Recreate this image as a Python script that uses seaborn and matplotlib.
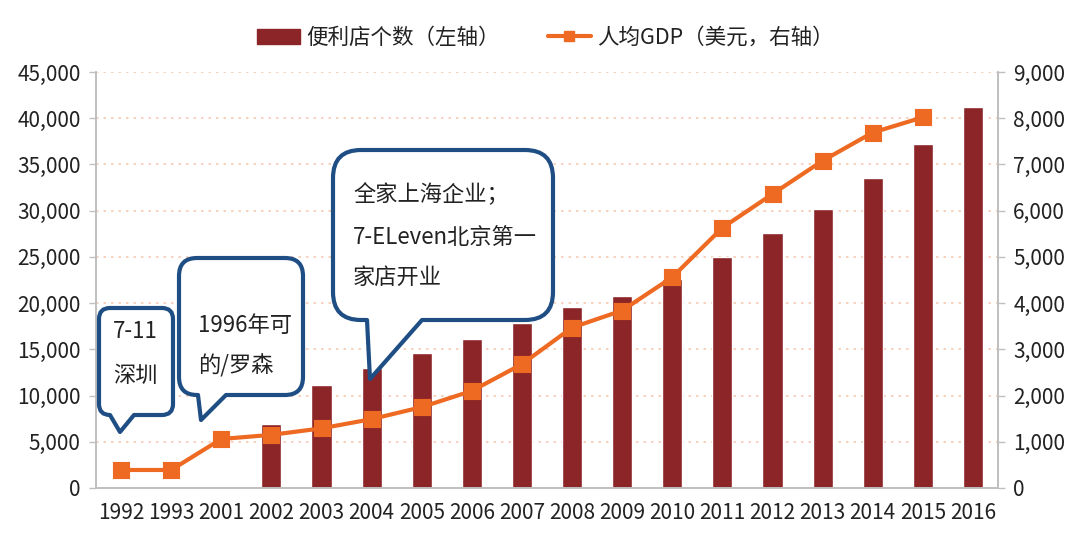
import matplotlib
matplotlib.use("Agg")
import matplotlib.pyplot as plt
import seaborn as sns
import pandas as pd
import numpy as np
from matplotlib.path import Path
from matplotlib.patches import PathPatch, Patch
from matplotlib.lines import Line2D
from matplotlib.ticker import FuncFormatter, MultipleLocator, FixedLocator

# ---------------- data ----------------
years = ["1992", "1993", "2001", "2002", "2003", "2004", "2005", "2006", "2007",
         "2008", "2009", "2010", "2011", "2012", "2013", "2014", "2015", "2016"]
store_years = ["2002", "2003", "2004", "2005", "2006", "2007", "2008", "2009",
               "2010", "2011", "2012", "2013", "2014", "2015", "2016"]
store_counts = [6900, 11100, 13000, 14600, 16100, 17800, 19600, 20800,
                22600, 25000, 27600, 30200, 33500, 37200, 41200]
gdp_years = ["1992", "1993", "2001", "2002", "2003", "2004", "2005", "2006",
             "2007", "2008", "2009", "2010", "2011", "2012", "2013", "2014", "2015"]
gdp_values = [390, 390, 1060, 1150, 1290, 1490, 1750, 2100,
              2680, 3470, 3840, 4560, 5630, 6360, 7080, 7690, 8020]
bar_label = "便利店个数（左轴）"
line_label = "人均GDP（美元，右轴）"
notes = [["7-11", "深圳"], ["1996年可", "的/罗森"],
         ["全家上海企业；", "7-ELeven北京第一", "家店开业"]]

# ---------------- style ----------------
sns.set_style("white")
plt.rcParams["font.family"] = ["Noto Sans CJK SC", "DejaVu Sans"]
BAR = "#8B2528"
LINE = "#EE6A22"
BLUE = "#1F4E85"
SPINE = "#BFBFBF"
GRID = "#F6C9B3"
TXT = "#222222"

W, H = 1080, 549
fig = plt.figure(figsize=(W / 100, H / 100), dpi=100)
ax = fig.add_axes([96 / W, 1 - 488 / H, (998 - 96) / W, (488 - 72) / H])
ax2 = ax.twinx()

df_bar = pd.DataFrame({"year": store_years, "count": store_counts})
df_line = pd.DataFrame({"year": gdp_years, "gdp": gdp_values})

sns.barplot(data=df_bar, x="year", y="count", order=years, ax=ax,
            color=BAR, saturation=1, width=0.4, errorbar=None, zorder=2)
sns.pointplot(data=df_line, x="year", y="gdp", order=years, ax=ax2,
              color=LINE, markers="s", linestyles="-", errorbar=None,
              markersize=10, linewidth=3)

for a in (ax, ax2):
    leg = a.get_legend()
    if leg:
        leg.remove()

ax.set_xlim(-0.5, len(years) - 0.5)
ax.set_ylim(0, 45000)
ax2.set_ylim(0, 9000)
ax.yaxis.set_major_locator(MultipleLocator(5000))
ax2.yaxis.set_major_locator(MultipleLocator(1000))
fmt = FuncFormatter(lambda v, p: f"{int(v):,}")
ax.yaxis.set_major_formatter(fmt)
ax2.yaxis.set_major_formatter(fmt)

ax.set_xticks(range(len(years)))
ax.set_xticklabels(years)
ax.xaxis.set_minor_locator(FixedLocator(np.arange(-0.5, len(years), 1.0)))
ax.tick_params(axis="x", which="major", length=0, pad=10, labelsize=15, labelcolor=TXT)
ax.tick_params(axis="x", which="minor", length=5, color=SPINE, width=1)
ax.tick_params(axis="y", length=5, color=SPINE, width=1, labelsize=15, labelcolor=TXT, pad=6)
ax2.tick_params(axis="y", length=5, color=SPINE, width=1, labelsize=15, labelcolor=TXT, pad=6)

ax.set_xlabel("")
ax.set_ylabel("")
ax2.set_ylabel("")
ax.grid(axis="y", color=GRID, linestyle=(0, (1.5, 3)), linewidth=1.2)
ax.set_axisbelow(True)
for a in (ax, ax2):
    a.spines["top"].set_visible(False)
    for s in ("left", "right", "bottom"):
        a.spines[s].set_color(SPINE)
        a.spines[s].set_linewidth(1.2)

# ---------------- legend ----------------
handles = [Patch(facecolor=BAR, edgecolor=BAR),
           Line2D([0], [0], color=LINE, lw=3, marker="s", markersize=7)]
fig.legend(handles, [bar_label, line_label], loc="center",
           bbox_to_anchor=(0.505, 1 - 38 / H), ncol=2, frameon=False,
           fontsize=15.5, handlelength=2.0, handletextpad=0.3, columnspacing=2.2,
           labelcolor=TXT)

# ---------------- speech bubbles ----------------
def bubble(L, T, R, B, r, x1, x2, tip):
    x1 = max(x1, L + r)
    pts = [(L + r, T), (R - r, T), (R, T), (R, T + r), (R, B - r), (R, B), (R - r, B),
           (x2, B), tip, (x1, B), (L + r, B), (L, B), (L, B - r), (L, T + r), (L, T),
           (L + r, T), (L + r, T)]
    codes = [Path.MOVETO, Path.LINETO, Path.CURVE3, Path.CURVE3, Path.LINETO,
             Path.CURVE3, Path.CURVE3, Path.LINETO, Path.LINETO, Path.LINETO,
             Path.LINETO, Path.CURVE3, Path.CURVE3, Path.LINETO, Path.CURVE3,
             Path.CURVE3, Path.CLOSEPOLY]
    verts = [(x / W, 1 - y / H) for x, y in pts]
    patch = PathPatch(Path(verts, codes), transform=fig.transFigure,
                      facecolor="white", edgecolor=BLUE, lw=3, joinstyle="round",
                      zorder=10)
    fig.add_artist(patch)

bubble(99, 308, 173, 415, 11, 110, 134, (120, 432))
bubble(179, 258, 303, 395, 18, 198, 226, (201, 420))
bubble(333, 150, 553, 320, 28, 367, 422, (370, 379))

def ftext(x, y, s, ha="center"):
    fig.text(x / W, 1 - y / H, s, ha=ha, va="center", fontsize=16, color=TXT,
             family=["Noto Sans CJK SC", "DejaVu Sans"], zorder=11)

ftext(135, 332, notes[0][0])
ftext(135, 375, notes[0][1])
ftext(198, 326, notes[1][0], ha="left")
ftext(198, 366, notes[1][1], ha="left")
ftext(353, 195, notes[2][0], ha="left")
ftext(353, 237, notes[2][1], ha="left")
ftext(353, 277, notes[2][2], ha="left")

fig.savefig("out.png", dpi=100, facecolor="white")
